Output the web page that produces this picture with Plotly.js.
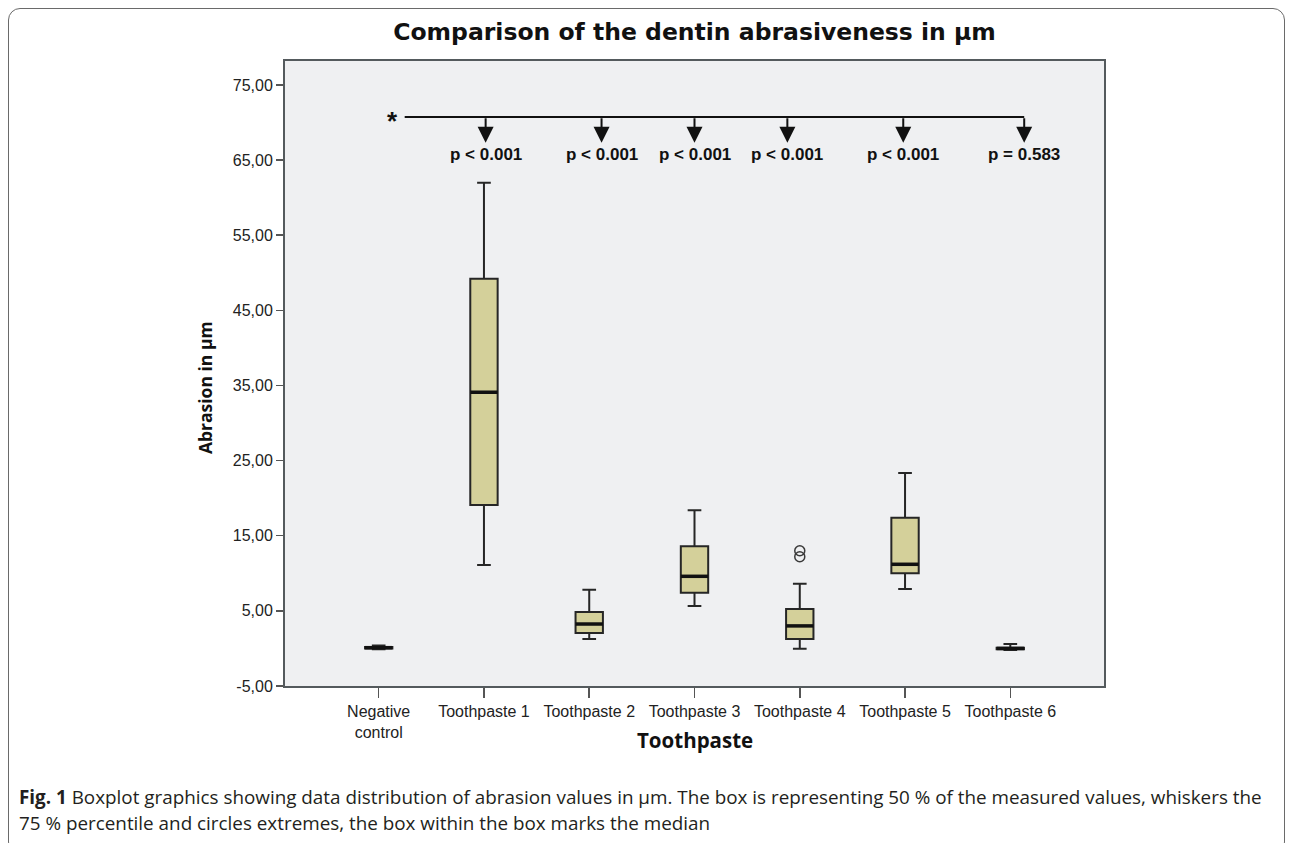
<!DOCTYPE html>
<html>
<head>
<meta charset="utf-8">
<script src="https://cdn.plot.ly/plotly-3.0.1.min.js"></script>
<style>
  html, body { margin:0; padding:0; background:#fff; }
  #wrap { position:relative; width:1292px; height:843px; overflow:hidden; }
  #chart { position:absolute; left:0; top:0; width:1292px; height:843px; }
  #frame { position:absolute; left:8px; top:8px; width:1277px; height:846px; border:1.5px solid #6a6a6a; border-radius:12px; box-sizing:border-box; pointer-events:none; }
  #caption { position:absolute; left:19px; top:784px; font-family:'Open Sans', sans-serif; font-size:18.85px; line-height:26px; color:#231f20; white-space:nowrap; }
</style>
</head>
<body>
<div id="wrap">
  <div id="chart"></div>
  <div id="frame"></div>
  <div id="caption"><b>Fig. 1</b> Boxplot graphics showing data distribution of abrasion values in μm. The box is representing 50 % of the measured values, whiskers the<br>75 % percentile and circles extremes, the box within the box marks the median</div>
</div>
<script>
// ---- data ----
const categories = ["Negative<br>control", "Toothpaste 1", "Toothpaste 2", "Toothpaste 3", "Toothpaste 4", "Toothpaste 5", "Toothpaste 6"];
const lowerWhisker = [-0.1, 11.1, 1.25, 5.65, -0.05, 7.9, -0.2];
const q1Values     = [0.0, 19.1, 2.05, 7.4, 1.25, 10.0, -0.1];
const medianValues = [0.1, 34.1, 3.25, 9.6, 3.0, 11.2, 0.0];
const q3Values     = [0.2, 49.2, 4.85, 13.6, 5.25, 17.4, 0.1];
const upperWhisker = [0.4, 62.0, 7.8, 18.4, 8.6, 23.35, 0.6];
const outlierCategory = ["Toothpaste 4", "Toothpaste 4"];
const outlierValues   = [13.0, 12.2];
const pLabels = ["p < 0.001", "p < 0.001", "p < 0.001", "p < 0.001", "p < 0.001", "p = 0.583"];
const yTickVals = [-5, 5, 15, 25, 35, 45, 55, 65, 75];
const yTickText = ["-5,00", "5,00", "15,00", "25,00", "35,00", "45,00", "55,00", "65,00", "75,00"];

// ---- annotation placement (layout, category-index units) ----
const arrowPos = [1.016, 2.117, 3.0, 3.882, 4.983, 6.132];
const starPos = 0.133;
const lineStart = 0.247;
const lineY = 70.74, arrowTipY = 67.3, pTextY = 65.8;

const FONT = "'Liberation Sans', Arial, sans-serif";
const TFONT = "'DejaVu Sans', Verdana, sans-serif";
const AFONT = "'Open Sans', sans-serif";

const boxTrace = {
  type: 'box',
  x: categories,
  q1: q1Values,
  median: medianValues,
  q3: q3Values,
  lowerfence: lowerWhisker,
  upperfence: upperWhisker,
  boxpoints: false,
  fillcolor: '#d4d09a',
  line: { color: '#262626', width: 2 },
  width: 0.26,
  whiskerwidth: 0.5,
  showlegend: false,
  hoverinfo: 'skip'
};

const medianTrace = {
  type: 'scatter',
  mode: 'markers',
  x: categories,
  y: medianValues,
  marker: { symbol: 'line-ew', size: 19.5, line: { width: 3.5, color: '#111' } },
  showlegend: false,
  hoverinfo: 'skip'
};

const outlierTrace = {
  type: 'scatter',
  mode: 'markers',
  x: outlierCategory,
  y: outlierValues,
  marker: { symbol: 'circle-open', size: 10, color: '#3a3a3a', line: { width: 1.5, color: '#3a3a3a' } },
  showlegend: false,
  hoverinfo: 'skip'
};

const annotations = [];
arrowPos.forEach((xp, i) => {
  annotations.push({
    x: xp, y: arrowTipY, xref: 'x', yref: 'y', text: '',
    showarrow: true, ax: 0, ay: -26, axref: 'pixel', ayref: 'pixel',
    arrowhead: 2, arrowsize: 1.6, arrowwidth: 2, arrowcolor: '#111', standoff: 0
  });
  annotations.push({
    x: xp, y: pTextY, xref: 'x', yref: 'y', text: pLabels[i], showarrow: false,
    xanchor: 'center', yanchor: 'middle',
    font: { family: FONT, size: 17, color: '#111', weight: 'bold' }
  });
});
annotations.push({
  x: starPos, y: 70.2, xref: 'x', yref: 'y', text: '*', showarrow: false,
  xanchor: 'center', yanchor: 'middle',
  font: { family: FONT, size: 26, color: '#111', weight: 'bold' }
});
// axis titles (placed as in the reference)
annotations.push({
  x: (205 - 285) / 820, y: (686 - 388) / 625, xref: 'paper', yref: 'paper',
  text: '<b>Abrasion in μm</b>', textangle: -90, showarrow: false,
  xanchor: 'center', yanchor: 'middle',
  font: { family: AFONT, size: 17.5, color: '#111' }
});
annotations.push({
  x: (695 - 285) / 820, y: (686 - 740) / 625, xref: 'paper', yref: 'paper',
  text: '<b>Toothpaste</b>', showarrow: false,
  xanchor: 'center', yanchor: 'middle',
  font: { family: AFONT, size: 20.5, color: '#111' }
});

const layout = {
  width: 1292, height: 843,
  margin: { l: 285, r: 188, t: 61, b: 157 },
  paper_bgcolor: 'rgba(0,0,0,0)',
  plot_bgcolor: '#eff0f2',
  title: {
    text: '<b>Comparison of the dentin abrasiveness in μm</b>',
    font: { family: TFONT, size: 23.5, color: '#111' },
    x: 0.5, xref: 'paper', y: 1 - 32/843, yref: 'container', yanchor: 'middle'
  },
  xaxis: {
    type: 'category',
    range: [-0.89, 6.89],
    showline: true, mirror: true, linecolor: '#545a5d', linewidth: 2,
    ticks: 'outside', ticklen: 10, tickwidth: 1.5, tickcolor: '#555',
    showgrid: false, zeroline: false,
    tickfont: { family: FONT, size: 16, color: '#222' },
    automargin: false
  },
  yaxis: {
    range: [-5, 78.19],
    tickvals: yTickVals, ticktext: yTickText,
    showline: true, mirror: true, linecolor: '#545a5d', linewidth: 2,
    ticks: 'outside', ticklen: 7, tickwidth: 1.5, tickcolor: '#555',
    showgrid: false, zeroline: false,
    tickfont: { family: FONT, size: 16, color: '#222' },
    automargin: false
  },
  shapes: [{
    type: 'line', xref: 'x', yref: 'y',
    x0: lineStart, x1: arrowPos[arrowPos.length - 1], y0: lineY, y1: lineY,
    line: { color: '#111', width: 2 }
  }],
  annotations: annotations,
  showlegend: false
};

Plotly.newPlot('chart', [boxTrace, medianTrace, outlierTrace], layout, { displayModeBar: false, staticPlot: true });
</script>
</body>
</html>
